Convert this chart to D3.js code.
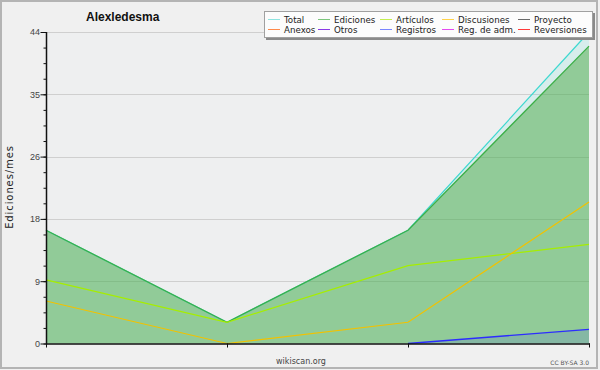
<!DOCTYPE html>
<html>
<head>
<meta charset="utf-8">
<script src="https://cdn.jsdelivr.net/npm/d3@7"></script>
<style>
  body { margin: 0; background: #f0f0f0; }
  text { font-family: "DejaVu Sans", sans-serif; }
</style>
</head>
<body>
<div id="chart"></div>
<script>
// data
var months = ["m1", "m2", "m3", "m4"];
var total = [16, 3, 16, 44];
var ediciones = [16, 3, 16, 42];
var articulos = [9, 3, 11, 14];
var discusiones = [6, 0, 3, 20];
var registros = [null, null, 0, 2];
var yTicks = [0, 8.8, 17.6, 26.4, 35.2, 44];
var legendItems = [
    ["Total", "#8ee4e0"], ["Ediciones", "#7cc67c"], ["Artículos", "#c4ee50"], ["Discusiones", "#ffd24a"], ["Proyecto", "#6a6a6a"],
    ["Anexos", "#ff8a4a"], ["Otros", "#8a3ae6"], ["Registros", "#7a86ff"], ["Reg. de adm.", "#e44af0"], ["Reversiones", "#ff3a3a"]
];

var width = 600, height = 370;
var pLeft = 46, pRight = 589, pTop = 32, pBottom = 343.5;

var svg = d3.select("#chart").append("svg")
    .attr("width", width)
    .attr("height", height);

// background + frame
svg.append("rect")
    .attr("x", 1).attr("y", 1)
    .attr("width", 596).attr("height", 367)
    .attr("fill", "#f0f0f0")
    .attr("stroke", "#b4b4b4")
    .attr("stroke-width", 2);

svg.append("rect")
    .attr("x", pLeft).attr("y", pTop)
    .attr("width", pRight - pLeft).attr("height", pBottom - pTop)
    .attr("fill", "#eeeff0");

var x = d3.scalePoint().domain(months).range([pLeft, pRight]);
var y = d3.scaleLinear().domain([0, 44]).range([pBottom, pTop]);

// grid
svg.append("g").selectAll("line")
    .data(yTicks.slice(1))
    .enter().append("line")
    .attr("x1", pLeft).attr("x2", pRight)
    .attr("y1", function (d) { return Math.round(y(d)) + 0.5; })
    .attr("y2", function (d) { return Math.round(y(d)) + 0.5; })
    .attr("stroke", "#cfcfcf");

function rows(vals) {
    return months.map(function (m, i) { return { m: m, v: vals[i] }; });
}
var area = d3.area()
    .defined(function (d) { return d.v != null; })
    .x(function (d) { return x(d.m); })
    .y0(pBottom)
    .y1(function (d) { return y(d.v); });
var line = d3.line()
    .defined(function (d) { return d.v != null; })
    .x(function (d) { return x(d.m); })
    .y(function (d) { return y(d.v); });

// areas
svg.append("path").datum(rows(total)).attr("d", area)
    .attr("fill", "#40e0d0").attr("fill-opacity", 0.13);
svg.append("path").datum(rows(ediciones)).attr("d", area)
    .attr("fill", "#4ba944").attr("fill-opacity", 0.5);
svg.append("path").datum(rows(registros)).attr("d", area)
    .attr("fill", "#3232ff").attr("fill-opacity", 0.12);

// lines
var series = [
    [total, "#3ed8d0", 1.2],
    [ediciones, "#3caf48", 1.3],
    [articulos, "#a6ee00", 1.3],
    [discusiones, "#f2c200", 1.2],
    [registros, "#2c2cff", 1.3]
];
series.forEach(function (s) {
    svg.append("path").datum(rows(s[0])).attr("d", line)
        .attr("fill", "none")
        .attr("stroke", s[1])
        .attr("stroke-width", s[2]);
});

// axes
var yAxis = d3.axisLeft(y)
    .tickValues(yTicks)
    .tickSize(6)
    .tickFormat(function (d) { return Math.round(d); });
var yMinor = d3.axisLeft(y)
    .tickValues(d3.range(0, 44.01, 2.2))
    .tickSize(3)
    .tickFormat("");
var gMinor = svg.append("g").attr("transform", "translate(" + (pLeft + 0.5) + ",0)").call(yMinor);
var gy = svg.append("g").attr("transform", "translate(" + (pLeft + 0.5) + ",0)").call(yAxis);
[gy, gMinor].forEach(function (g) {
    g.select(".domain").remove();
    g.selectAll("line").attr("stroke", "#111");
});
gy.selectAll("text")
    .attr("x", -6.5)
    .attr("fill", "#444")
    .style("font-size", "9px")
    .style("font-family", "'Liberation Sans', sans-serif");
svg.append("line")
    .attr("x1", pLeft + 0.5).attr("x2", pLeft + 0.5)
    .attr("y1", pTop).attr("y2", pBottom + 1)
    .attr("stroke", "#111").attr("stroke-width", 1.5);

var xAxis = d3.axisBottom(x).tickSize(4).tickFormat("");
var gx = svg.append("g").attr("transform", "translate(0," + pBottom + ")").call(xAxis);
gx.select(".domain").remove();
gx.selectAll("line").attr("stroke", "#111");
svg.append("line")
    .attr("x1", pLeft).attr("x2", pRight + 1)
    .attr("y1", pBottom + 0.5).attr("y2", pBottom + 0.5)
    .attr("stroke", "#111").attr("stroke-width", 1.5);

// titles
svg.append("text")
    .attr("x", 86).attr("y", 21)
    .style("font-family", "'Liberation Sans', sans-serif")
    .style("font-weight", "bold")
    .style("font-size", "12px")
    .attr("fill", "#111")
    .text("Alexledesma");

svg.append("text")
    .attr("transform", "translate(13,187) rotate(-90)")
    .attr("text-anchor", "middle")
    .style("font-size", "10px")
    .style("letter-spacing", "0.9px")
    .attr("fill", "#222")
    .text("Ediciones/mes");

svg.append("text")
    .attr("x", 301).attr("y", 364)
    .attr("text-anchor", "middle")
    .style("font-size", "8px")
    .attr("fill", "#444")
    .text("wikiscan.org");

svg.append("text")
    .attr("x", 589).attr("y", 365)
    .attr("text-anchor", "end")
    .style("font-size", "6px")
    .attr("fill", "#555")
    .text("CC BY-SA 3.0");

// legend
var lg = svg.append("g");
lg.append("rect")
    .attr("x", 266).attr("y", 13)
    .attr("width", 329).attr("height", 27)
    .attr("fill", "#8a8a8a");
lg.append("rect")
    .attr("x", 264.5).attr("y", 11.5)
    .attr("width", 328).attr("height", 26)
    .attr("fill", "#fcfcfc")
    .attr("stroke", "#a0a0a0");
var colX = [268, 318, 380, 442, 518];
var rowY = [19, 29];
legendItems.forEach(function (d, i) {
    var cx = colX[i % 5], cy = rowY[Math.floor(i / 5)];
    lg.append("line")
        .attr("x1", cx).attr("x2", cx + 12)
        .attr("y1", cy + 0.5).attr("y2", cy + 0.5)
        .attr("stroke", d[1]);
    lg.append("text")
        .attr("x", cx + 16).attr("y", cy + 3.5)
        .style("font-size", "8.7px")
        .attr("fill", "#222")
        .text(d[0]);
});
</script>
</body>
</html>
